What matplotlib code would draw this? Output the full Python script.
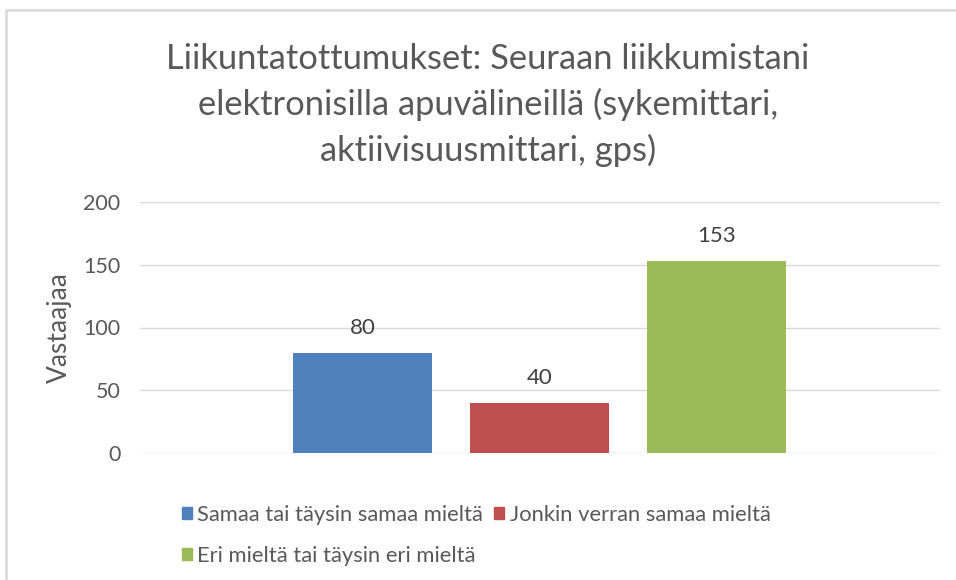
import matplotlib.pyplot as plt
from matplotlib.patches import Rectangle, Patch

# data
otsikko = "Liikuntatottumukset: Seuraan liikkumistani\nelektronisilla apuvälineillä (sykemittari,\naktiivisuusmittari, gps)"
sarjat = ["Samaa tai täysin samaa mieltä", "Jonkin verran samaa mieltä",
          "Eri mieltä tai täysin eri mieltä"]
arvot = [80, 40, 153]
varit = ["#4f81bd", "#c0504d", "#9bbb59"]
y_tikit = [0, 50, 100, 150, 200]

plt.rcParams['font.family'] = ['Lato', 'DejaVu Sans']
harmaa = "#595959"

fig = plt.figure(figsize=(9.56, 5.8), dpi=100)
ax = fig.add_axes([140/956, 1 - 453/580, 800/956, 251/580])

# kehys kuvan ympärillä (vain yläreuna ja vasen näkyvät)
fig.patches.append(Rectangle((6/956, -0.2), 1.2, 1.2 - 10/580,
                             transform=fig.transFigure, fill=False,
                             edgecolor="#d9d9d9", linewidth=1.8))

x = range(len(arvot))
ax.bar(x, arvot, width=0.785, color=varit, zorder=3)
for i, v in enumerate(arvot):
    ax.annotate(str(v), (i, v), xytext=(0, 18), textcoords='offset points',
                ha='center', va='center', fontsize=16, color="#404040")

ax.set_xlim(-1.257, 3.263)
ax.set_ylim(0, 200)
ax.set_yticks(y_tikit)
ax.set_xticks([])
ax.yaxis.grid(True, color="#d9d9d9", linewidth=1, zorder=0)
for s in ax.spines.values():
    s.set_visible(False)
ax.tick_params(axis='y', length=0, labelsize=15.5, labelcolor=harmaa, pad=14)
ax.set_ylabel("Vastaajaa", fontsize=19, color=harmaa, labelpad=8)

fig.text(488/956, 1 - 105/580, otsikko, ha='center', va='center', fontsize=24.8,
         color=harmaa, linespacing=1.48)

# legenda kahdessa rivissä: järjestys niin että rivi 1 = sarja 1 ja 2
kahvat = [Patch(color=c) for c in varit]
jarj = [0, 2, 1]
fig.legend([kahvat[i] for i in jarj], [sarjat[i] for i in jarj], ncol=2,
           loc='upper left', bbox_to_anchor=(171/956, 1 - 494/580), frameon=False,
           fontsize=15.8, labelcolor=harmaa, handlelength=0.45, handleheight=0.45,
           handletextpad=0.25, columnspacing=0.5, labelspacing=0.95, borderpad=0)

fig.savefig("out.png", dpi=100)
